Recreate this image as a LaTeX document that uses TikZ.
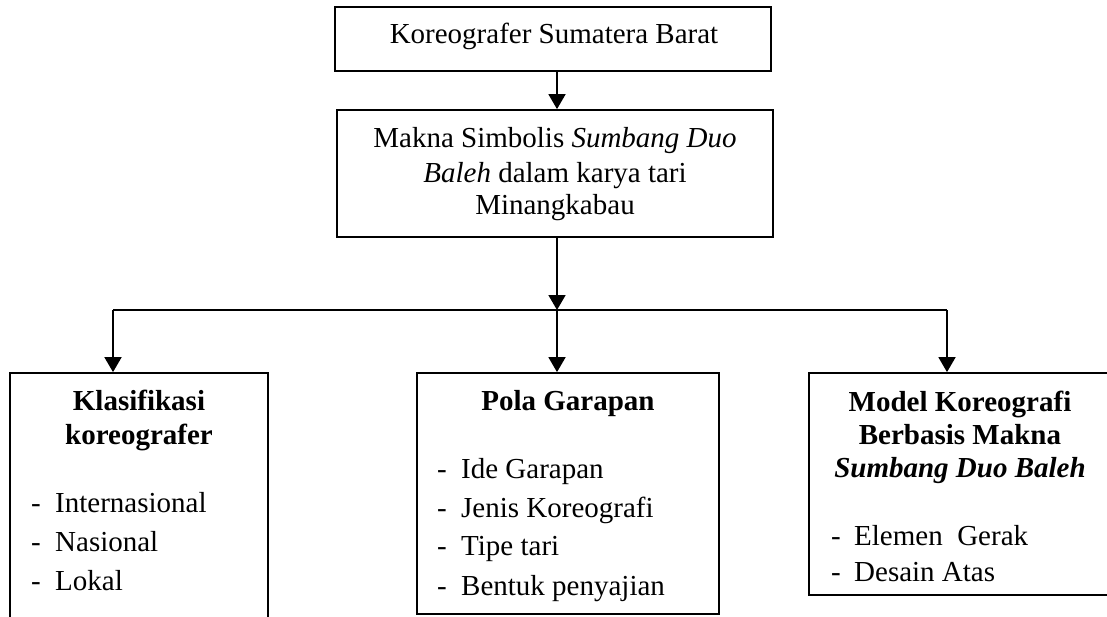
\documentclass[tikz,border=0pt]{standalone}
\usepackage{fontspec}
\setmainfont{Liberation Serif}
\usetikzlibrary{arrows.meta}
\begin{document}
\begin{tikzpicture}[x=1pt,y=-1pt,
  box/.style={draw,line width=1.8pt,rectangle,inner sep=0pt},
  txt/.style={inner sep=0pt,font=\fontsize{29}{33}\selectfont},
  arr/.style={line width=1.8pt,-{Triangle[length=15pt,width=17pt]}},
  ln/.style={line width=1.8pt}]
\useasboundingbox (0,0) rectangle (1107,616);
\clip (0,0) rectangle (1107,616);
% boxes
\node[box,minimum width=436pt,minimum height=64pt] (a) at (553,39) {};
\node[box,minimum width=436pt,minimum height=127pt] (b) at (555,173.5) {};
\node[box,minimum width=258pt,minimum height=280pt] (l) at (139,513) {};
\node[box,minimum width=302pt,minimum height=241pt] (m) at (568,493.5) {};
\node[box,minimum width=320pt,minimum height=222pt] (r) at (969,484) {};
% texts
\node[txt,anchor=base] (ta) at (554,43) {Koreografer Sumatera Barat};
\node[txt,anchor=base] (tb1) at (555,147) {Makna Simbolis \textit{Sumbang Duo}};
\node[txt,anchor=base] (tb2) at (555,182) {\textit{Baleh} dalam karya tari};
\node[txt,anchor=base] (tb3) at (555,214) {Minangkabau};
% left
\node[txt,anchor=base] (lh1) at (139,410) {\textbf{Klasifikasi}};
\node[txt,anchor=base] (lh2) at (139,444) {\textbf{koreografer}};
\node[txt,anchor=base west] (ld1) at (31,512) {-};
\node[txt,anchor=base west] (ld2) at (31,551) {-};
\node[txt,anchor=base west] (ld3) at (31,590) {-};
\node[txt,anchor=base west] (li1) at (55,512) {Internasional};
\node[txt,anchor=base west] (li2) at (55,551) {Nasional};
\node[txt,anchor=base west] (li3) at (55,590) {Lokal};
% middle
\node[txt,anchor=base] (mh) at (568,410) {\textbf{Pola Garapan}};
\node[txt,anchor=base west] (md1) at (437,478) {-};
\node[txt,anchor=base west] (md2) at (437,517) {-};
\node[txt,anchor=base west] (md3) at (437,555) {-};
\node[txt,anchor=base west] (md4) at (437,595) {-};
\node[txt,anchor=base west] (mi1) at (461,478) {Ide Garapan};
\node[txt,anchor=base west] (mi2) at (461,517) {Jenis Koreografi};
\node[txt,anchor=base west] (mi3) at (461,555) {Tipe tari};
\node[txt,anchor=base west] (mi4) at (461,595) {Bentuk penyajian};
% right
\node[txt,anchor=base] (rh1) at (960,411) {\textbf{Model Koreografi}};
\node[txt,anchor=base] (rh2) at (960,444) {\textbf{Berbasis Makna}};
\node[txt,anchor=base] (rh3) at (960,477) {\textbf{\textit{Sumbang Duo Baleh}}};
\node[txt,anchor=base west] (rd1) at (831,545) {-};
\node[txt,anchor=base west] (rd2) at (831,581) {-};
\node[txt,anchor=base west] (ri1) at (854,545) {Elemen~ Gerak};
\node[txt,anchor=base west] (ri2) at (854,581) {Desain Atas};
% connectors
\coordinate (j) at (557,310);
\coordinate (jl) at (113,310);
\coordinate (jr) at (947,310);
\draw[arr] (a.south -| j) -- (b.north -| j);
\draw[arr] (b.south -| j) -- (j);
\draw[ln] (jl) -- (jr);
\draw[arr] (jl) -- (jl |- l.north);
\draw[arr] (j) -- (j |- m.north);
\draw[arr] (jr) -- (jr |- r.north);
\end{tikzpicture}
\end{document}
